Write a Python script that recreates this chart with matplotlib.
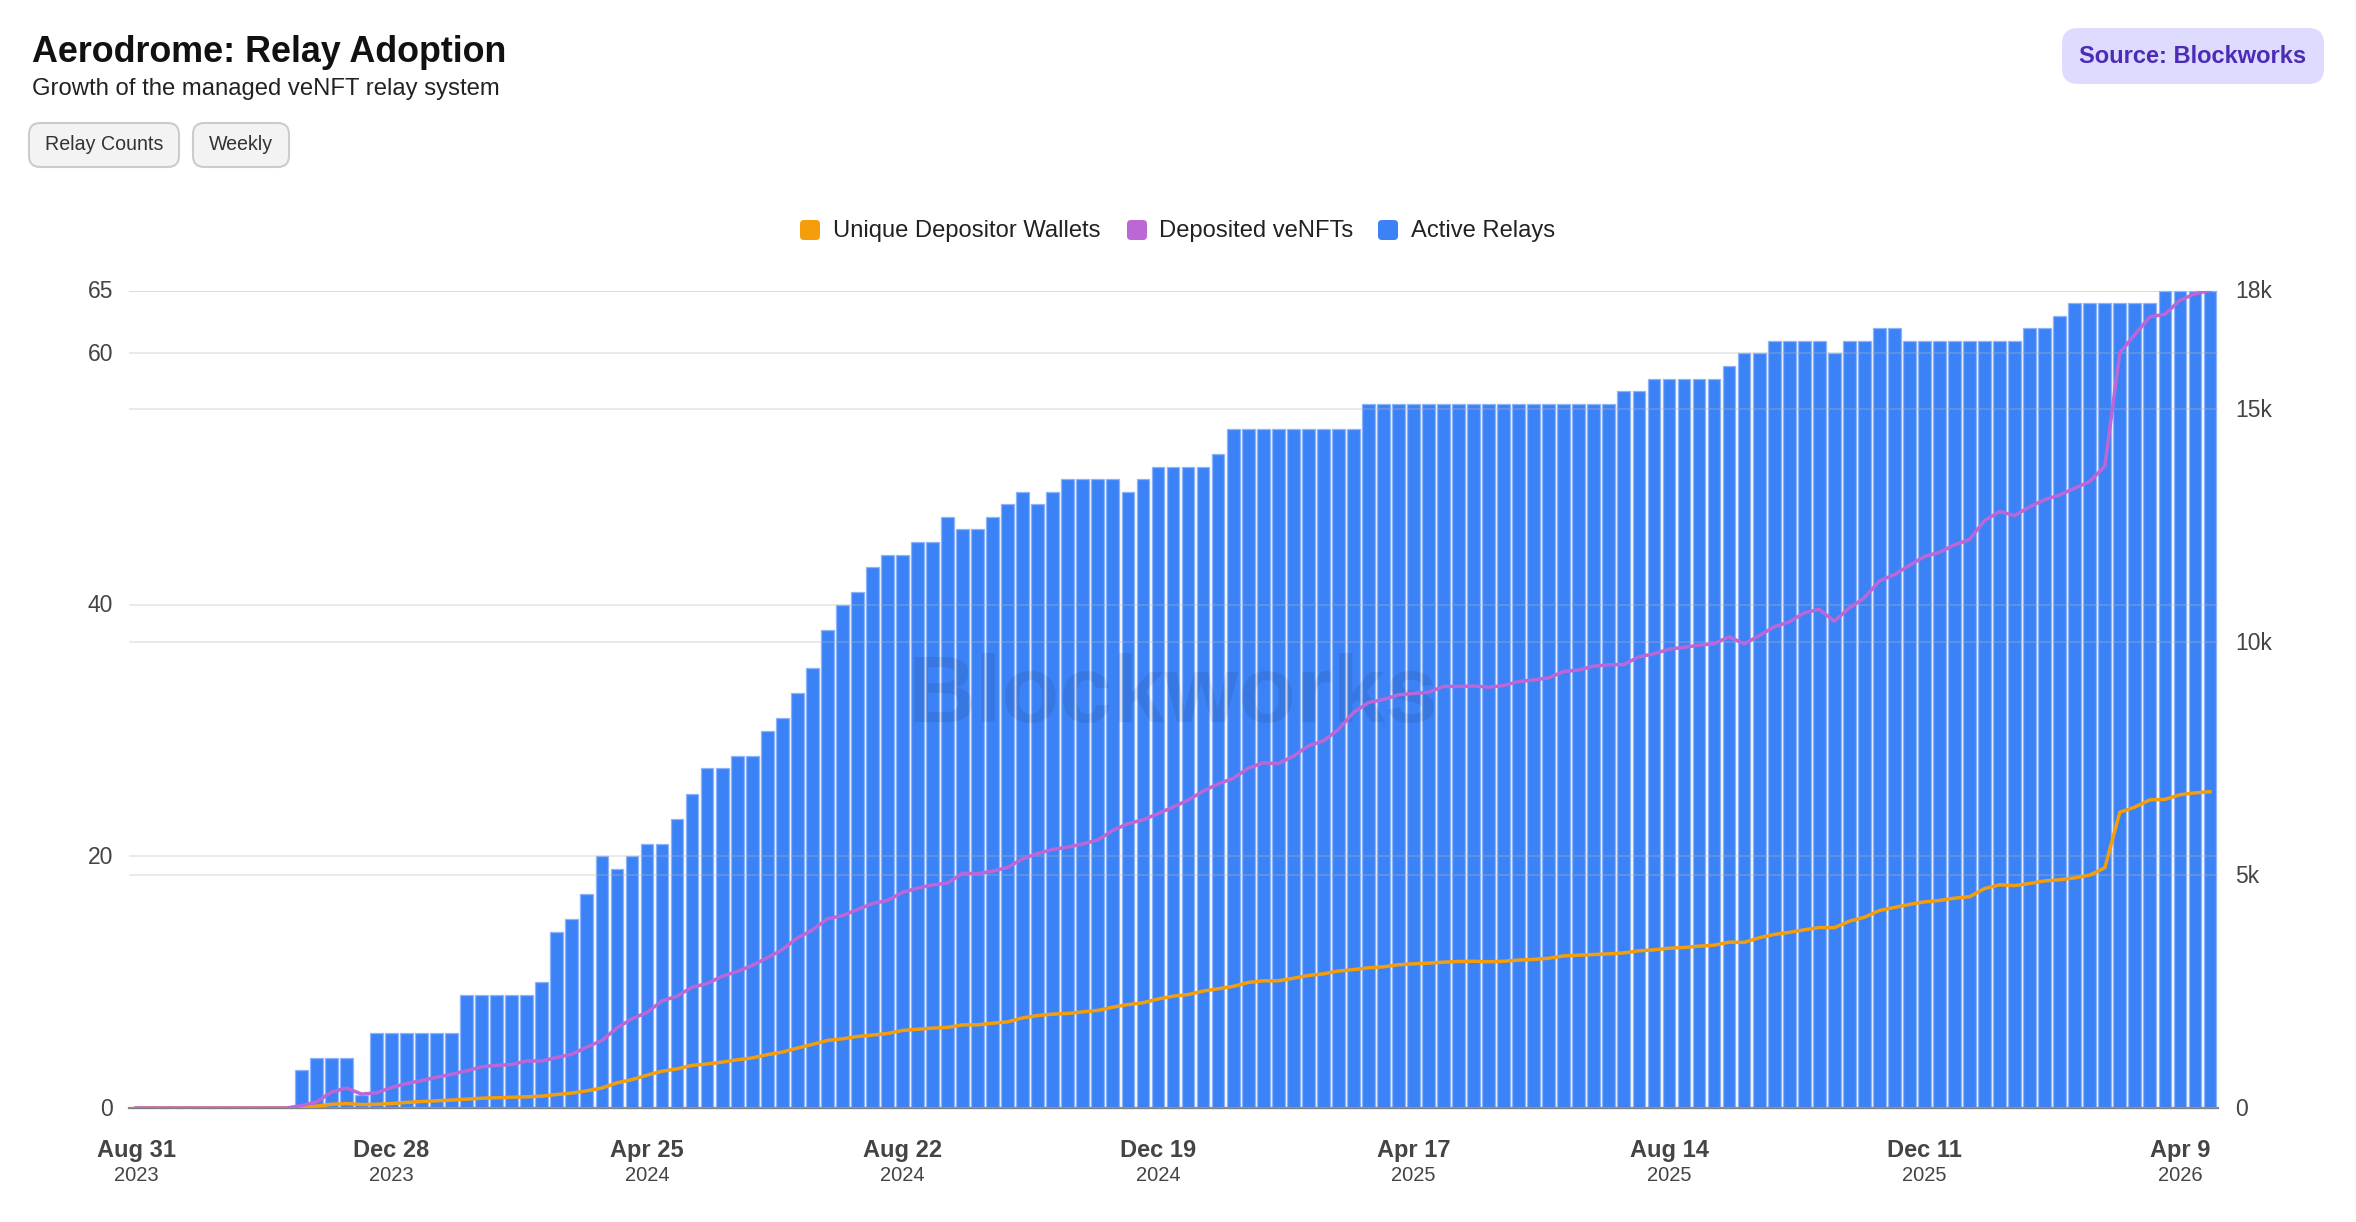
import matplotlib
matplotlib.use('Agg')
import matplotlib.pyplot as plt
from matplotlib.patches import FancyBboxPatch
from matplotlib.transforms import ScaledTranslation
import numpy as np

plt.rcParams.update({
    'font.family': ['Liberation Sans', 'DejaVu Sans'],
    'axes.spines.top': False,
    'axes.spines.left': False,
    'axes.spines.right': False,
})

W, H = 2356, 1222

# Data, one value per week
active_relays = [
    0, 0, 0, 0, 0, 0, 0, 0, 0, 0, 0, 3, 4, 4, 4, 1, 6, 6, 6, 6,
    6, 6, 9, 9, 9, 9, 9, 10, 14, 15, 17, 20, 19, 20, 21, 21, 23, 25, 27, 27,
    28, 28, 30, 31, 33, 35, 38, 40, 41, 43, 44, 44, 45, 45, 47, 46, 46, 47, 48, 49,
    48, 49, 50, 50, 50, 50, 49, 50, 51, 51, 51, 51, 52, 54, 54, 54, 54, 54, 54, 54,
    54, 54, 56, 56, 56, 56, 56, 56, 56, 56, 56, 56, 56, 56, 56, 56, 56, 56, 56, 57,
    57, 58, 58, 58, 58, 58, 59, 60, 60, 61, 61, 61, 61, 60, 61, 61, 62, 62, 61, 61,
    61, 61, 61, 61, 61, 61, 62, 62, 63, 64, 64, 64, 64, 64, 64, 65, 65, 65, 65,
]
deposited_venfts = [
    0, 0, 0, 0, 0, 0, 0, 0, 0, 0, 0, 50, 130, 340, 430, 300, 325, 440, 525, 590,
    660, 725, 800, 885, 915, 935, 1010, 1010, 1085, 1155, 1310, 1450, 1720, 1915, 2050, 2300, 2400, 2595, 2670, 2830,
    2930, 3060, 3225, 3400, 3650, 3820, 4060, 4130, 4260, 4390, 4455, 4630, 4720, 4790, 4830, 5040, 5030, 5085, 5165, 5350,
    5465, 5550, 5600, 5670, 5755, 5960, 6105, 6185, 6320, 6460, 6610, 6800, 6960, 7075, 7295, 7410, 7395, 7550, 7775, 7880,
    8125, 8485, 8705, 8770, 8870, 8900, 8925, 9050, 9050, 9060, 9035, 9070, 9155, 9190, 9235, 9370, 9405, 9485, 9515, 9520,
    9685, 9750, 9850, 9890, 9935, 9970, 10115, 9965, 10140, 10330, 10435, 10630, 10705, 10450, 10735, 10950, 11315, 11450, 11650, 11840,
    11930, 12090, 12205, 12610, 12805, 12720, 12905, 13060, 13160, 13305, 13450, 13780, 16210, 16605, 16985, 17040, 17340, 17480, 17550,
]
unique_wallets = [
    0, 0, 0, 0, 0, 0, 0, 0, 0, 0, 0, 0, 40, 80, 95, 75, 80, 95, 120, 140,
    155, 170, 190, 210, 220, 230, 240, 255, 290, 320, 370, 430, 540, 610, 705, 790, 840, 915, 945, 985,
    1035, 1075, 1145, 1200, 1285, 1365, 1450, 1485, 1535, 1565, 1600, 1665, 1690, 1715, 1730, 1785, 1785, 1820, 1850, 1935,
    1985, 2015, 2030, 2065, 2095, 2165, 2220, 2260, 2340, 2400, 2435, 2510, 2560, 2610, 2695, 2730, 2730, 2785, 2845, 2880,
    2940, 2970, 3010, 3030, 3075, 3095, 3110, 3130, 3145, 3150, 3140, 3150, 3175, 3190, 3215, 3265, 3280, 3295, 3310, 3330,
    3375, 3395, 3430, 3445, 3475, 3495, 3560, 3555, 3655, 3725, 3770, 3825, 3875, 3870, 4010, 4095, 4240, 4305, 4370, 4425,
    4455, 4505, 4535, 4710, 4790, 4775, 4820, 4875, 4900, 4940, 5000, 5155, 6350, 6460, 6615, 6625, 6725, 6765, 6790,
]

tick_idx = [0, 17, 34, 51, 68, 85, 102, 119, 136]
tick_dates = ['Aug 31', 'Dec 28', 'Apr 25', 'Aug 22', 'Dec 19', 'Apr 17', 'Aug 14', 'Dec 11', 'Apr 9']
tick_years = ['2023', '2023', '2024', '2024', '2024', '2025', '2025', '2025', '2026']

left_ticks = [0, 20, 40, 60, 65]
right_ticks = [0, 5000, 10000, 15000, 17550]
right_labels = ['0', '5k', '10k', '15k', '18k']

BLUE, PURPLE, ORANGE = '#3b82f6', '#bd66d6', '#f59e0b'
GRID = '#b8b8b8'
TICK_COL = '#444444'

fig = plt.figure(figsize=(W / 100, H / 100), dpi=100, facecolor='white')
x0, x1, y0, y1 = 128.5, 2217.5, 1108, 290.5
ax = fig.add_axes([x0 / W, 1 - y0 / H, (x1 - x0) / W, (y0 - y1) / H])
ax2 = ax.twinx()

x = np.arange(len(active_relays))
ax.bar(x, active_relays, width=0.85, color=BLUE, edgecolor='#8db4fa', linewidth=0.9, zorder=1, clip_on=False)
ax.set_xlim(-0.5, len(x) - 0.5)
ax.set_ylim(0, 65)
ax.set_yticks(left_ticks)
ax.grid(axis='y', color=GRID, alpha=0.3, lw=1.4)
ax.grid(axis='x', visible=False)
ax.set_axisbelow(False)
ax.spines['bottom'].set_color('#808080')
ax.spines['bottom'].set_linewidth(1.6)
ax.spines['bottom'].set_zorder(3)
ax.tick_params(axis='y', length=0, labelsize=16.5, labelcolor=TICK_COL, pad=11)
ax.set_xticks(tick_idx)
ax.set_xticklabels(tick_dates, fontsize=17, fontweight='bold', color=TICK_COL)
ax.tick_params(axis='x', length=0, pad=22.5)
for i, yr in zip(tick_idx, tick_years):
    ax.annotate(yr, (i, 0), xycoords=ax.get_xaxis_transform(), xytext=(0, -48.8),
                textcoords='offset points', ha='center', va='center',
                fontsize=14.5, color=TICK_COL)

# watermark sits between the bars and the lines
ax.text(0.5, 0.502, 'Blockworks', transform=ax.transAxes, ha='center', va='center',
        fontsize=68, fontweight='bold', color='black', alpha=0.08, zorder=4)

ax2.plot(x, unique_wallets, color=ORANGE, lw=2.5, solid_joinstyle='round', zorder=3)
ax2.plot(x, deposited_venfts, color=PURPLE, lw=2.5, solid_joinstyle='round', zorder=3)
ax2.set_ylim(0, 17550)
ax2.set_yticks(right_ticks)
ax2.set_yticklabels(right_labels)
ax2.grid(axis='y', color=GRID, alpha=0.3, lw=1.4)
ax2.set_axisbelow(True)
ax2.spines['bottom'].set_visible(False)
ax2.tick_params(axis='y', length=0, labelsize=16.5, labelcolor=TICK_COL, pad=12.5)

# nudge the value labels up a little
nudge = ScaledTranslation(0, 1.5 / 100, fig.dpi_scale_trans)
for lab in ax.get_yticklabels() + ax2.get_yticklabels():
    lab.set_transform(lab.get_transform() + nudge)

# header, chips and legend are page furniture, drawn in pixel coordinates
page = fig.add_axes([0, 0, 1, 1], zorder=10)
page.set_xlim(0, W)
page.set_ylim(H, 0)
page.axis('off')


def box(px0, py0, px1, py1, radius, face, edge='none', lw=0.0):
    page.add_patch(FancyBboxPatch((px0 + radius, py0 + radius), px1 - px0 - 2 * radius, py1 - py0 - 2 * radius,
                                  boxstyle=f'round,pad={radius},rounding_size={radius}',
                                  facecolor=face, edgecolor=edge, linewidth=lw))


page.text(32, 52, 'Aerodrome: Relay Adoption', fontsize=25.8, fontweight='bold', color='#111111', va='center')
page.text(32, 89.5, 'Growth of the managed veNFT relay system', fontsize=17.2, color='#222222', va='center')

box(29, 123, 179, 167, 11, '#f3f3f3', '#cccccc', 1.5)
box(193, 123, 289, 167, 11, '#f3f3f3', '#cccccc', 1.5)
page.text(104, 144, 'Relay Counts', fontsize=14.1, color='#333333', ha='center', va='center')
page.text(241, 144, 'Weekly', fontsize=14.1, color='#333333', ha='center', va='center')

box(2062, 28, 2324, 84, 16, '#dddcff')
page.text(2193, 56.5, 'Source: Blockworks', fontsize=17, fontweight='bold', color='#4c2bb5', ha='center', va='center')

legend_items = [('Unique Depositor Wallets', ORANGE, 800, 833),
                ('Deposited veNFTs', PURPLE, 1127, 1159),
                ('Active Relays', BLUE, 1378, 1411)]
for name, col, sx, tx in legend_items:
    box(sx, 220, sx + 20, 240, 4, col)
    page.text(tx, 231.5, name, fontsize=17.1, color='#222222', va='center')

fig.savefig('out.png', dpi=100)
